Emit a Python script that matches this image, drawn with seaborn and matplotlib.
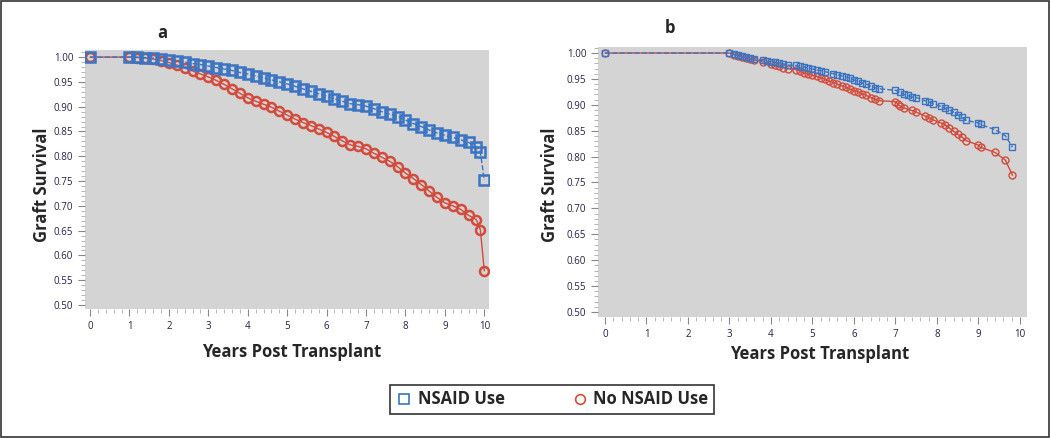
import numpy as np
import pandas as pd
import matplotlib.pyplot as plt
from matplotlib.lines import Line2D
from matplotlib.patches import Rectangle
from matplotlib.ticker import MultipleLocator
import seaborn as sns

# panel a - NSAID use
a_use_years = [0, 1.0, 1.2, 1.4, 1.6, 1.8, 2.0, 2.2, 2.4, 2.6, 2.8, 3.0, 3.2, 3.4, 3.6, 3.8,
               4.0, 4.2, 4.4, 4.6, 4.8, 5.0, 5.2, 5.4, 5.6, 5.8, 6.0, 6.2, 6.4, 6.6, 6.8,
               7.0, 7.2, 7.4, 7.6, 7.8, 8.0, 8.2, 8.4, 8.6, 8.8, 9.0, 9.2, 9.4, 9.6, 9.8, 9.9, 10.0]
a_use_surv = [1.0, 1.000, 1.000, 0.999, 0.998, 0.997, 0.995, 0.993, 0.990, 0.987, 0.985, 0.982,
              0.979, 0.976, 0.973, 0.969, 0.966, 0.962, 0.958, 0.954, 0.950, 0.946, 0.941,
              0.936, 0.931, 0.926, 0.921, 0.916, 0.911, 0.906, 0.904, 0.901, 0.896, 0.890,
              0.885, 0.880, 0.873, 0.866, 0.860, 0.853, 0.847, 0.842, 0.838, 0.833, 0.828,
              0.819, 0.808, 0.752]

# panel a - no NSAID use
a_no_years = [0, 1.0, 1.2, 1.4, 1.6, 1.8, 2.0, 2.2, 2.4, 2.6, 2.8, 3.0, 3.2, 3.4, 3.6, 3.8,
              4.0, 4.2, 4.4, 4.6, 4.8, 5.0, 5.2, 5.4, 5.6, 5.8, 6.0, 6.2, 6.4, 6.6, 6.8,
              7.0, 7.2, 7.4, 7.6, 7.8, 8.0, 8.2, 8.4, 8.6, 8.8, 9.0, 9.2, 9.4, 9.6, 9.8, 9.9, 10.0]
a_no_surv = [1.0, 1.000, 0.999, 0.998, 0.996, 0.993, 0.989, 0.984, 0.978, 0.972, 0.966, 0.960,
             0.953, 0.945, 0.936, 0.927, 0.918, 0.911, 0.905, 0.899, 0.891, 0.883, 0.875,
             0.868, 0.862, 0.855, 0.848, 0.840, 0.831, 0.823, 0.820, 0.815, 0.806, 0.798,
             0.790, 0.779, 0.766, 0.755, 0.743, 0.730, 0.717, 0.706, 0.700, 0.693, 0.681,
             0.672, 0.652, 0.569]

# panel b - NSAID use
b_use_years = [0, 3.0, 3.1, 3.2, 3.3, 3.4, 3.5, 3.6, 3.8, 3.9, 4.0, 4.1, 4.2, 4.3, 4.4, 4.6,
               4.7, 4.8, 4.9, 5.0, 5.1, 5.2, 5.3, 5.5, 5.6, 5.7, 5.8, 5.9, 6.0, 6.1, 6.2,
               6.3, 6.4, 6.5, 6.6, 7.0, 7.1, 7.2, 7.3, 7.4, 7.5, 7.7, 7.8, 7.9, 8.1, 8.2,
               8.3, 8.4, 8.5, 8.6, 8.7, 9.0, 9.05, 9.4, 9.65, 9.82]
b_use_surv = [1.0, 1.0, 0.998, 0.996, 0.994, 0.992, 0.990, 0.989, 0.986, 0.984, 0.983, 0.982,
              0.980, 0.979, 0.977, 0.976, 0.974, 0.973, 0.971, 0.969, 0.967, 0.966, 0.964,
              0.960, 0.958, 0.956, 0.954, 0.951, 0.948, 0.945, 0.942, 0.940, 0.936, 0.933,
              0.931, 0.928, 0.925, 0.920, 0.918, 0.915, 0.914, 0.908, 0.906, 0.902, 0.897,
              0.893, 0.890, 0.886, 0.881, 0.876, 0.870, 0.865, 0.862, 0.852, 0.840, 0.818]

# panel b - no NSAID use
b_no_years = [0, 3.0, 3.1, 3.2, 3.3, 3.4, 3.5, 3.6, 3.8, 4.0, 4.1, 4.2, 4.3, 4.4, 4.6, 4.7,
              4.8, 4.9, 5.0, 5.1, 5.2, 5.3, 5.4, 5.5, 5.6, 5.7, 5.8, 5.9, 6.0, 6.1, 6.2,
              6.3, 6.4, 6.5, 6.6, 7.0, 7.05, 7.1, 7.2, 7.4, 7.5, 7.7, 7.8, 7.9, 8.1, 8.2,
              8.3, 8.4, 8.5, 8.6, 8.7, 9.0, 9.05, 9.4, 9.65, 9.82]
b_no_surv = [1.0, 1.0, 0.997, 0.995, 0.993, 0.990, 0.988, 0.986, 0.983, 0.979, 0.976, 0.974,
             0.972, 0.970, 0.968, 0.965, 0.961, 0.959, 0.957, 0.955, 0.952, 0.949, 0.946,
             0.943, 0.940, 0.937, 0.934, 0.930, 0.927, 0.925, 0.921, 0.918, 0.914, 0.911,
             0.908, 0.906, 0.902, 0.898, 0.894, 0.889, 0.886, 0.879, 0.875, 0.871, 0.865,
             0.861, 0.855, 0.849, 0.843, 0.838, 0.831, 0.822, 0.818, 0.808, 0.793, 0.764]

labels = ['NSAID Use', 'No NSAID Use']
blue = '#3B74C3'
red = '#D24B3C'

sns.set_style('white', {'axes.facecolor': '#D4D4D4'})
plt.rcParams['font.family'] = ['Open Sans', 'DejaVu Sans']

fig = plt.figure(figsize=(10.5, 4.38), dpi=100)
ax_a = fig.add_axes([0.081, 0.2945, 0.385, 0.591])
ax_b = fig.add_axes([0.5695, 0.2763, 0.4086, 0.6164])


def draw_panel(ax, use_x, use_y, no_x, no_y, xlim, ylim, ms, mew):
    d_use = pd.DataFrame({'year': use_x, 'surv': use_y})
    d_no = pd.DataFrame({'year': no_x, 'surv': no_y})
    sns.lineplot(data=d_no, x='year', y='surv', ax=ax, estimator=None, sort=False,
                 color=red, linewidth=1.0, marker='o', markersize=ms,
                 markerfacecolor='none', markeredgecolor=red, markeredgewidth=mew)
    sns.lineplot(data=d_use, x='year', y='surv', ax=ax, estimator=None, sort=False,
                 color=blue, linewidth=1.0, linestyle='--', marker='s', markersize=ms,
                 markerfacecolor='none', markeredgecolor=blue, markeredgewidth=mew)
    ax.set_xlim(*xlim)
    ax.set_ylim(*ylim)
    ax.xaxis.set_major_locator(MultipleLocator(1))
    ax.xaxis.set_minor_locator(MultipleLocator(0.2))
    ax.yaxis.set_major_locator(MultipleLocator(0.05))
    ax.yaxis.set_minor_locator(MultipleLocator(0.01))
    ax.yaxis.set_major_formatter(lambda v, p: f'{v:.2f}')
    ax.tick_params(which='major', length=5, width=0.8, color='#888888',
                   labelsize=7, labelcolor='#222244', direction='out', bottom=True, left=True)
    ax.tick_params(which='minor', length=3, width=0.6, color='#aaaaaa',
                   direction='out', bottom=True, left=True)
    for s in ax.spines.values():
        s.set_visible(False)
    ax.set_xlabel('')
    ax.set_ylabel('')


draw_panel(ax_a, a_use_years, a_use_surv, a_no_years, a_no_surv,
           (-0.127, 10.127), (0.492, 1.014), 6.5, 1.8)
draw_panel(ax_b, b_use_years, b_use_surv, b_no_years, b_no_surv,
           (-0.169, 10.17), (0.4903, 1.0116), 5, 1.0)

# titles and axis labels
fig.text(162 / 1050, 1 - 33 / 438, 'a', ha='center', va='center', fontsize=12, fontweight='bold')
fig.text(670 / 1050, 1 - 28 / 438, 'b', ha='center', va='center', fontsize=12, fontweight='bold')
fig.text(42 / 1050, 1 - 185 / 438, 'Graft Survival', rotation=90, ha='center', va='center',
         fontsize=12, fontweight='bold')
fig.text(550 / 1050, 1 - 185 / 438, 'Graft Survival', rotation=90, ha='center', va='center',
         fontsize=12, fontweight='bold')
fig.text(292 / 1050, 1 - 352 / 438, 'Years Post Transplant', ha='center', va='center',
         fontsize=12, fontweight='bold')
fig.text(820 / 1050, 1 - 354 / 438, 'Years Post Transplant', ha='center', va='center',
         fontsize=12, fontweight='bold')

# legend in a box at the bottom
handles = [Line2D([], [], linestyle='none', marker='s', markersize=7, markerfacecolor='none',
                  markeredgecolor=blue, markeredgewidth=1.2),
           Line2D([], [], linestyle='none', marker='o', markersize=7, markerfacecolor='none',
                  markeredgecolor=red, markeredgewidth=1.2)]
leg = fig.legend(handles, labels, loc='center', bbox_to_anchor=(552 / 1050, 1 - 399.5 / 438),
                 ncol=2, frameon=True, fancybox=False, edgecolor='#333333',
                 facecolor='white', framealpha=1,
                 prop={'weight': 'bold', 'size': 12}, handletextpad=0.3, columnspacing=4.0,
                 borderpad=0.35, handlelength=1.0)
leg.get_frame().set_linewidth(1.2)

# outer frame
fig.patches.append(Rectangle((0.001, 0.002), 0.998, 0.996, transform=fig.transFigure,
                             fill=False, edgecolor='#333333', linewidth=1.2))

fig.savefig('out.png', dpi=100)
